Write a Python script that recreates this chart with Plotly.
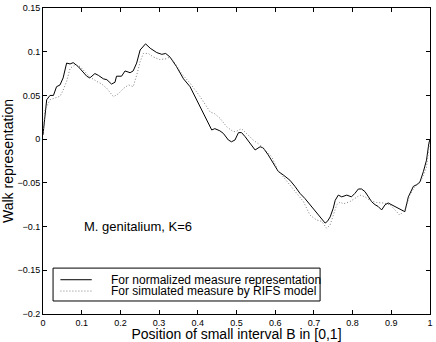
import plotly.graph_objects as go

# walk for the normalized measure representation (solid)
x_norm = [0.0, 0.005, 0.0095, 0.018, 0.027, 0.035, 0.044, 0.052, 0.061, 0.07,
          0.078, 0.091, 0.104, 0.113, 0.121, 0.134, 0.143, 0.156, 0.165, 0.177,
          0.186, 0.19, 0.203, 0.212, 0.225, 0.233, 0.242, 0.251, 0.265, 0.277,
          0.294, 0.307, 0.317, 0.328, 0.345, 0.363, 0.38, 0.397, 0.419, 0.436,
          0.444, 0.457, 0.466, 0.479, 0.487, 0.496, 0.505, 0.513, 0.522, 0.535,
          0.548, 0.561, 0.569, 0.582, 0.595, 0.608, 0.621, 0.638, 0.651, 0.664,
          0.677, 0.69, 0.703, 0.716, 0.729, 0.735, 0.742, 0.75, 0.755, 0.763,
          0.772, 0.785, 0.797, 0.806, 0.815, 0.823, 0.832, 0.841, 0.849, 0.858,
          0.866, 0.875, 0.884, 0.892, 0.901, 0.914, 0.927, 0.935, 0.944, 0.957,
          0.966, 0.974, 0.983, 0.991, 0.997, 1.0]
y_norm = [0.005, 0.03, 0.045, 0.05, 0.05, 0.06, 0.062, 0.07, 0.087, 0.086,
          0.0875, 0.083, 0.077, 0.072, 0.070, 0.075, 0.073, 0.069, 0.068, 0.063,
          0.065, 0.072, 0.072, 0.078, 0.076, 0.078, 0.087, 0.102, 0.109, 0.104,
          0.099, 0.097, 0.098, 0.094, 0.083, 0.069, 0.06, 0.045, 0.026, 0.0105,
          0.012, 0.0095, 0.0066, -0.001, -0.003, -0.001, 0.0074, 0.0075, 0.003, -0.005,
          -0.0124, -0.0087, -0.01, -0.018, -0.028, -0.037, -0.041, -0.047, -0.054, -0.062,
          -0.068, -0.075, -0.083, -0.09, -0.096, -0.094, -0.089, -0.079, -0.07, -0.064,
          -0.066, -0.064, -0.066, -0.062, -0.057, -0.057, -0.06, -0.066, -0.0715, -0.075,
          -0.077, -0.081, -0.075, -0.073, -0.075, -0.078, -0.081, -0.083, -0.066, -0.054,
          -0.052, -0.049, -0.037, -0.024, -0.005, 0.0]

# walk for the measure simulated by the RIFS model (dotted)
x_rifs = [0.0, 0.005, 0.018, 0.031, 0.044, 0.052, 0.061, 0.07, 0.083, 0.096,
          0.109, 0.121, 0.139, 0.152, 0.165, 0.182, 0.195, 0.208, 0.221, 0.233,
          0.242, 0.251, 0.259, 0.272, 0.285, 0.302, 0.319, 0.328, 0.341, 0.358,
          0.38, 0.406, 0.432, 0.444, 0.457, 0.475, 0.492, 0.5, 0.513, 0.526,
          0.543, 0.561, 0.574, 0.591, 0.606, 0.625, 0.656, 0.673, 0.69, 0.707,
          0.72, 0.733, 0.742, 0.75, 0.759, 0.768, 0.776, 0.793, 0.806, 0.819,
          0.832, 0.845, 0.862, 0.879, 0.897, 0.91, 0.922, 0.935, 0.948, 0.961,
          0.974, 0.983, 0.991, 0.997, 1.0]
y_rifs = [0.005, 0.033, 0.045, 0.047, 0.049, 0.056, 0.066, 0.081, 0.085, 0.083,
          0.077, 0.071, 0.066, 0.063, 0.058, 0.0486, 0.052, 0.058, 0.062, 0.06,
          0.073, 0.0886, 0.098, 0.098, 0.094, 0.091, 0.092, 0.094, 0.087, 0.075,
          0.064, 0.0486, 0.031, 0.029, 0.024, 0.014, 0.0085, 0.009, 0.012, 0.0066,
          -0.001, -0.0067, -0.012, -0.02, -0.035, -0.045, -0.062, -0.0715, -0.087, -0.0925,
          -0.094, -0.102, -0.098, -0.087, -0.075, -0.072, -0.074, -0.0715, -0.068, -0.064,
          -0.066, -0.07, -0.0725, -0.073, -0.075, -0.081, -0.087, -0.081, -0.064, -0.054,
          -0.05, -0.041, -0.032, -0.01, -0.002]

legend_labels = ["For normalized measure representation",
                 "For simulated measure by RIFS model"]

x_ticks = [0, 0.1, 0.2, 0.3, 0.4, 0.5, 0.6, 0.7, 0.8, 0.9, 1]
x_labels = ["0", "0.1", "0.2", "0.3", "0.4", "0.5", "0.6", "0.7", "0.8", "0.9", "1"]
y_ticks = [-0.2, -0.15, -0.1, -0.05, 0, 0.05, 0.1, 0.15]
y_labels = ["\u22120.2", "\u22120.15", "\u22120.1", "\u22120.05", "0", "0.05", "0.1", "0.15"]

font = "Liberation Sans, Arial, Helvetica, sans-serif"
solid = dict(color="black", width=1)
dotted = dict(color="#808080", width=1, dash="1px,2px")

fig = go.Figure()
fig.add_trace(go.Scatter(x=x_norm, y=y_norm, mode="lines", line=solid,
                         name=legend_labels[0], showlegend=False))
fig.add_trace(go.Scatter(x=x_rifs, y=y_rifs, mode="lines", line=dotted,
                         name=legend_labels[1], showlegend=False))

fig.add_annotation(x=0.1, y=-0.1, text="M. genitalium, K=6", showarrow=False,
                   xanchor="left", yanchor="middle",
                   font=dict(family=font, size=13, color="black"))

# MATLAB-style legend box, drawn in paper coordinates of the plot area
fig.add_shape(type="rect", xref="paper", yref="paper", x0=0.026, x1=0.716,
              y0=0.0425, y1=0.150, line=dict(color="black", width=1),
              fillcolor="white", layer="above")
for i, (lab, st) in enumerate(zip(legend_labels, [solid, dotted])):
    yy = 0.112 - i * 0.037
    fig.add_shape(type="line", xref="paper", yref="paper", x0=0.045, x1=0.126,
                  y0=yy, y1=yy, line=st, layer="above")
    fig.add_annotation(xref="paper", yref="paper", x=0.170, y=yy, text=lab,
                       showarrow=False, xanchor="left", yanchor="middle",
                       font=dict(family=font, size=12, color="black"))

axis_style = dict(showgrid=False, zeroline=False, showline=True, linecolor="black",
                  linewidth=1, mirror="ticks", ticks="inside", ticklen=4,
                  tickcolor="black", automargin=False,
                  tickfont=dict(family=font, size=9, color="black"))

fig.update_xaxes(range=[0, 1], tickvals=x_ticks, ticktext=x_labels,
                 title=dict(text="Position of small interval B in [0,1]", standoff=0,
                            font=dict(family=font, size=14, color="black")),
                 **axis_style)
fig.update_yaxes(range=[-0.2, 0.15], tickvals=y_ticks, ticktext=y_labels,
                 title=dict(text="Walk representation", standoff=0,
                            font=dict(family=font, size=14, color="black")),
                 **axis_style)

fig.update_layout(
    width=436, height=342,
    margin=dict(l=43, r=6, t=8, b=28),
    plot_bgcolor="white", paper_bgcolor="white",
    showlegend=False,
)

# drop the browser's default body margin so the figure fills the window
fig.write_html("out.html", config={"displayModeBar": False},
               post_script="document.body.style.margin='0';")
